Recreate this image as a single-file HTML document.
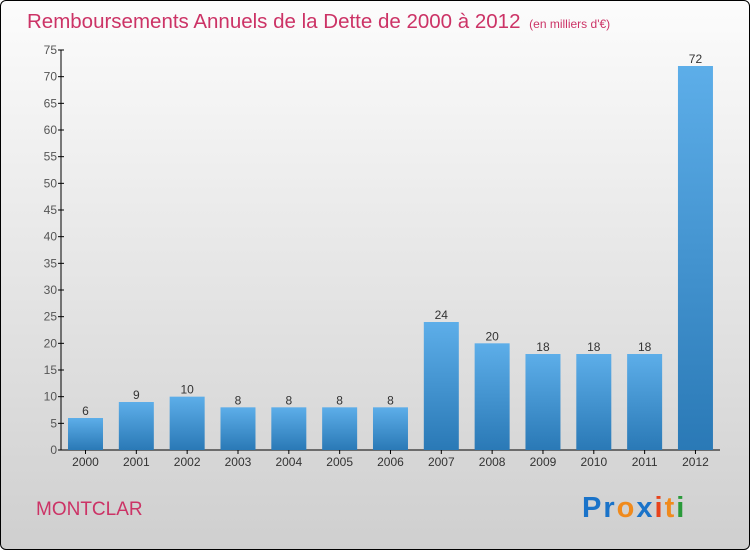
<!DOCTYPE html>
<html><head><meta charset="utf-8"><style>
html,body{margin:0;padding:0;}
body{width:750px;height:550px;overflow:hidden;font-family:"Liberation Sans",sans-serif;}
#wrap{position:absolute;left:0;top:0;width:748px;height:548px;border:1px solid #000;border-radius:6px;background:linear-gradient(#fcfcfc,#cfcfcf);}
</style></head><body>
<div id="wrap">
<svg id="chart" width="750" height="550" style="position:absolute;left:-1px;top:-1px">
<defs><linearGradient id="bg" x1="0" y1="0" x2="0" y2="1"><stop offset="0" stop-color="#5daee9"/><stop offset="1" stop-color="#2a79b6"/></linearGradient></defs>
<text x="27" y="28" font-size="20.5" fill="#cc3366">Remboursements Annuels de la Dette de 2000 à 2012 <tspan font-size="12" dx="3">(en milliers d'€)</tspan></text>
<text x="36" y="515" font-size="19" fill="#cc3366">MONTCLAR</text>
<text x="582" y="517" font-size="29" font-weight="bold" letter-spacing="2"><tspan fill="#1a73c9">Pr</tspan><tspan fill="#f08a1c">o</tspan><tspan fill="#1a73c9">x</tspan><tspan fill="#e8431c">i</tspan><tspan fill="#f08a1c">t</tspan><tspan fill="#2a9a3a">i</tspan></text>
<g id="axes"></g><g id="bars"></g>
</svg></div>
<script>
const categories=["2000","2001","2002","2003","2004","2005","2006","2007","2008","2009","2010","2011","2012"];
const values=[6,9,10,8,8,8,8,24,20,18,18,18,72];
const yTicks=[0,5,10,15,20,25,30,35,40,45,50,55,60,65,70,75];
const NS="http://www.w3.org/2000/svg";
const y0=450,yTop=50,yMax=75,x0=61,step=50.83,bw=35;
const yS=v=>y0-(v/yMax)*(y0-yTop);
const xC=i=>85.5+i*step;
function mk(t,a,p){const e=document.createElementNS(NS,t);for(const k in a)e.setAttribute(k,a[k]);p.appendChild(e);return e;}
const ax=document.getElementById('axes'),bg=document.getElementById('bars');
const yl=mk('line',{x1:x0,y1:yTop,x2:x0,y2:y0,stroke:'#000'},ax);


const xl=mk('line',{x1:x0,y1:y0,x2:720,y2:y0,stroke:'#000'},ax);


yTicks.forEach(v=>{const y=yS(v);
mk('line',{x1:x0-3,y1:y,x2:x0+3,y2:y,stroke:'#000'},ax);
const t=mk('text',{x:x0-4,y:y+4,'text-anchor':'end','font-size':12,fill:'#555'},ax);t.textContent=v;

});
categories.forEach((c,i)=>{const x=xC(i),v=values[i];
mk('line',{x1:x,y1:y0,x2:x,y2:y0+4,stroke:'#000'},ax);
const t=mk('text',{x:x,y:466,'text-anchor':'middle','font-size':12,fill:'#333'},ax);t.textContent=c;


const r=mk('rect',{x:x-bw/2,y:yS(v),width:bw,height:y0-yS(v),fill:'url(#bg)'},bg);


const l=mk('text',{x:x,y:yS(v)-3,'text-anchor':'middle','font-size':12,fill:'#333'},bg);l.textContent=v;

});
</script>
</body></html>
